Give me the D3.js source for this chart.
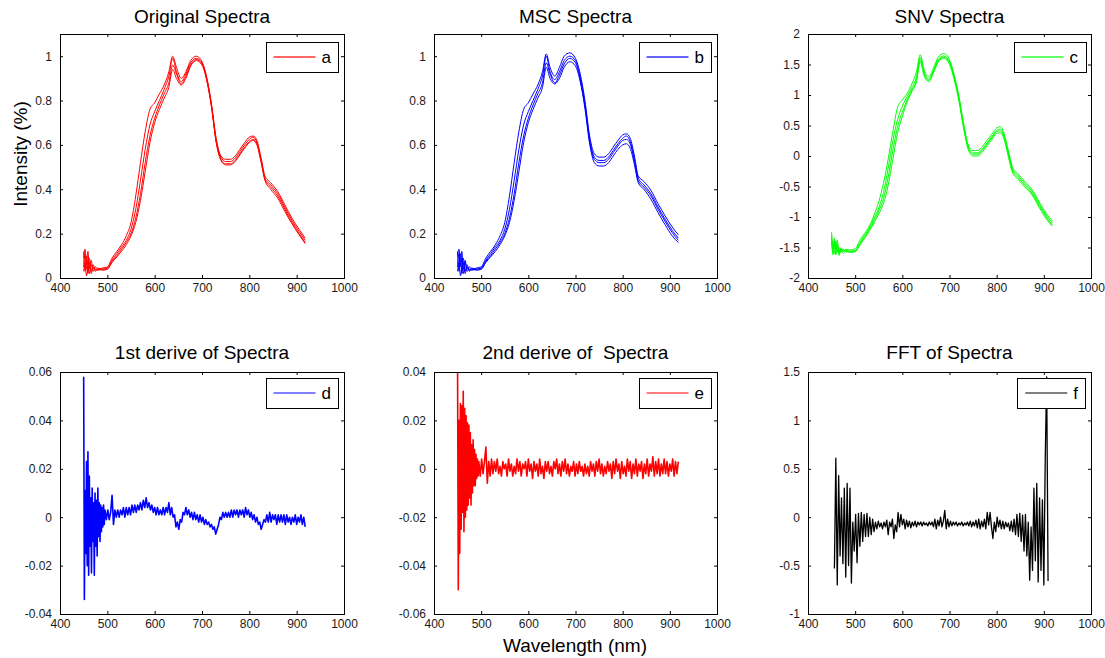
<!DOCTYPE html>
<html><head><meta charset="utf-8">
<script src="https://cdn.jsdelivr.net/npm/d3@7"></script>
<style>body{margin:0;background:#fff} text{font-family:"Liberation Sans",Arial,Helvetica,sans-serif}</style>
</head><body><svg id="c" width="1105" height="658"></svg>
<script>
// ---------- DATA ----------
const xTicks = [400,500,600,700,800,900,1000];
const specWl = [450,453,456,459,462,466,470,475,480,
 490,500,510,520,530,540,550,560,570,580,
 590,600,610,620,630,638,646,656,666,676,688,
 700,710,720,730,740,750,760,770,780,790,800,
 808,816,825,833,845,860,875,890,905,918];

const origA1 = [0.09,0.13,0.04,0.08,0.02,0.06,0.04,0.05,0.04,
 0.045,0.05,0.09,0.12,0.15,0.19,0.25,0.37,0.52,0.66,
 0.76,0.79,0.83,0.87,0.93,1.00,0.95,0.90,0.93,0.98,1.00,
 0.975,0.905,0.785,0.63,0.55,0.535,0.535,0.55,0.58,0.61,0.635,
 0.64,0.62,0.54,0.46,0.43,0.39,0.33,0.27,0.22,0.18];
const origA2 = [0.12,0.03,0.10,0.02,0.07,0.03,0.06,0.035,0.045,
 0.04,0.045,0.08,0.11,0.14,0.17,0.22,0.31,0.44,0.58,
 0.69,0.75,0.80,0.85,0.91,0.99,0.93,0.885,0.92,0.97,0.99,
 0.97,0.90,0.78,0.62,0.545,0.525,0.525,0.54,0.57,0.60,0.625,
 0.635,0.61,0.53,0.45,0.42,0.38,0.32,0.26,0.21,0.17];
const origA3 = [0.05,0.11,0.06,0.12,0.04,0.08,0.03,0.04,0.035,
 0.04,0.04,0.075,0.10,0.13,0.16,0.20,0.27,0.38,0.52,
 0.64,0.72,0.78,0.83,0.88,0.96,0.92,0.875,0.91,0.96,0.985,
 0.965,0.895,0.775,0.615,0.535,0.515,0.515,0.53,0.56,0.59,0.615,
 0.625,0.605,0.525,0.445,0.41,0.37,0.31,0.25,0.20,0.16];
const origA4 = [0.03,0.07,0.01,0.05,0.09,0.02,0.05,0.03,0.04,
 0.035,0.04,0.07,0.095,0.12,0.15,0.19,0.25,0.35,0.48,
 0.61,0.70,0.76,0.81,0.86,0.94,0.90,0.87,0.90,0.955,0.98,
 0.96,0.89,0.77,0.61,0.53,0.51,0.51,0.525,0.555,0.585,0.61,
 0.62,0.60,0.52,0.44,0.40,0.36,0.30,0.245,0.195,0.155];

const mscB1 = [0.10,0.13,0.05,0.09,0.02,0.07,0.04,0.05,0.04,
 0.045,0.05,0.09,0.12,0.15,0.19,0.25,0.37,0.52,0.66,
 0.76,0.79,0.83,0.87,0.93,1.01,0.95,0.91,0.95,1.00,1.015,
 0.99,0.92,0.80,0.64,0.56,0.545,0.545,0.56,0.59,0.62,0.645,
 0.65,0.63,0.55,0.46,0.435,0.395,0.335,0.28,0.23,0.195];
const mscB2 = [0.12,0.03,0.11,0.02,0.07,0.03,0.06,0.035,0.045,
 0.04,0.045,0.08,0.11,0.14,0.17,0.22,0.31,0.44,0.58,
 0.69,0.75,0.80,0.85,0.91,1.00,0.93,0.895,0.93,0.98,1.00,
 0.98,0.905,0.785,0.625,0.545,0.53,0.53,0.545,0.575,0.605,0.63,
 0.64,0.615,0.535,0.45,0.42,0.38,0.32,0.265,0.215,0.18];
const mscB3 = [0.05,0.11,0.06,0.12,0.04,0.08,0.03,0.04,0.035,
 0.04,0.04,0.075,0.10,0.13,0.16,0.20,0.27,0.38,0.52,
 0.64,0.72,0.78,0.83,0.88,0.97,0.92,0.88,0.915,0.965,0.99,
 0.97,0.895,0.775,0.615,0.535,0.52,0.52,0.535,0.565,0.595,0.62,
 0.625,0.605,0.525,0.44,0.41,0.37,0.31,0.255,0.205,0.17];
const mscB4 = [0.03,0.07,0.01,0.05,0.09,0.02,0.05,0.03,0.04,
 0.035,0.04,0.07,0.095,0.12,0.15,0.19,0.25,0.35,0.48,
 0.61,0.70,0.76,0.81,0.86,0.95,0.90,0.875,0.90,0.95,0.975,
 0.955,0.885,0.765,0.605,0.52,0.505,0.505,0.52,0.55,0.58,0.60,
 0.605,0.585,0.51,0.43,0.40,0.355,0.295,0.24,0.19,0.16];

const snvC1 = [-1.25,-1.55,-1.40,-1.60,-1.48,-1.63,-1.52,-1.55,-1.53,
 -1.54,-1.52,-1.38,-1.27,-1.15,-0.97,-0.75,-0.45,-0.05,0.40,
 0.80,0.92,1.02,1.18,1.38,1.66,1.42,1.30,1.44,1.62,1.68,
 1.58,1.33,0.98,0.53,0.18,0.09,0.09,0.16,0.26,0.36,0.46,
 0.48,0.36,0.08,-0.17,-0.29,-0.42,-0.55,-0.75,-0.94,-1.06];
const snvC2 = [-1.30,-1.58,-1.35,-1.62,-1.45,-1.60,-1.50,-1.56,-1.55,
 -1.56,-1.55,-1.42,-1.30,-1.18,-1.02,-0.85,-0.60,-0.20,0.25,
 0.60,0.82,0.97,1.12,1.30,1.62,1.38,1.26,1.40,1.58,1.64,
 1.55,1.30,0.95,0.50,0.15,0.05,0.05,0.12,0.22,0.32,0.42,
 0.44,0.32,0.05,-0.20,-0.32,-0.45,-0.58,-0.78,-0.97,-1.10];
const snvC3 = [-1.35,-1.50,-1.60,-1.40,-1.57,-1.50,-1.58,-1.53,-1.57,
 -1.57,-1.56,-1.44,-1.33,-1.21,-1.06,-0.90,-0.70,-0.35,0.10,
 0.48,0.72,0.92,1.08,1.25,1.58,1.35,1.24,1.38,1.56,1.62,
 1.53,1.28,0.93,0.48,0.13,0.03,0.03,0.10,0.20,0.30,0.40,
 0.41,0.30,0.02,-0.23,-0.35,-0.48,-0.61,-0.81,-1.00,-1.13];
const snvC4 = [-1.40,-1.62,-1.45,-1.55,-1.38,-1.58,-1.52,-1.60,-1.56,
 -1.58,-1.57,-1.46,-1.35,-1.23,-1.10,-0.95,-0.78,-0.48,-0.05,
 0.38,0.65,0.88,1.05,1.22,1.55,1.32,1.22,1.36,1.54,1.60,
 1.50,1.25,0.90,0.45,0.10,0.00,0.00,0.07,0.17,0.27,0.37,
 0.38,0.27,-0.02,-0.26,-0.38,-0.51,-0.64,-0.84,-1.03,-1.15];

const derivWl = [450,451.5,453,454.5,456,457.5,459,460.5,462,463.5,
 465,466.5,468,469.5,471,472.5,474,475.5,477,478.5,
 480,481.5,483,484.5,486,487.5,489,490.5,492,493.5,
 495,
 498,501,504,507,510,513,516,519,522,525,
 528,531,534,537,540,543,546,549,552,555,
 558,561,564,567,570,573,576,579,582,585,
 588,591,594,597,600,603,606,609,612,615,
 618,621,624,627,630,633,636,639,642,645,
 648,651,654,657,660,663,666,669,672,675,
 678,681,684,687,690,693,696,699,702,705,
 708,711,714,717,720,723,726,729,732,735,
 738,741,744,747,750,753,756,759,762,765,
 768,771,774,777,780,783,786,789,792,795,
 798,801,804,807,810,813,816,819,822,825,
 828,831,834,837,840,843,846,849,852,855,
 858,861,864,867,870,873,876,879,882,885,
 888,891,894,897,900,903,906,909,912,915,
 918];

const firstDeriv = [0.058,-0.034,0.011,-0.015,0.023,-0.020,0.027,-0.024,0.017,-0.012,
 0.008,-0.023,0.012,-0.010,0.006,-0.024,0.010,-0.012,0.007,-0.016,
 0.012,-0.008,0.006,-0.010,0.005,-0.006,0.004,-0.004,0.005,-0.003,
 0.003,
 -0.001,0.003,-0.001,0.002,0.009,-0.003,0.003,0.000,0.003,0.000,
 0.003,0.001,0.004,0.000,0.004,0.001,0.004,0.001,0.005,0.002,
 0.005,0.002,0.005,0.003,0.006,0.003,0.007,0.004,0.008,0.004,
 0.006,0.003,0.005,0.002,0.004,0.001,0.004,0.001,0.003,0.001,
 0.004,0.001,0.004,0.002,0.006,0.001,0.004,0.000,0.001,-0.004,
 -0.002,-0.005,-0.001,-0.002,0.002,0.001,0.004,0.001,0.003,0.000,
 0.002,-0.001,0.002,-0.001,0.001,-0.002,0.001,-0.002,0.000,-0.003,
 -0.001,-0.003,-0.002,-0.004,-0.003,-0.005,-0.004,-0.007,-0.005,-0.003,
 0.000,-0.001,0.002,0.000,0.002,0.000,0.002,0.000,0.003,0.000,
 0.003,0.001,0.003,0.000,0.003,0.001,0.003,0.000,0.004,0.001,
 0.003,0.000,0.002,-0.001,0.001,-0.002,0.000,-0.003,-0.002,-0.005,
 -0.003,-0.001,-0.002,0.001,-0.002,0.002,-0.002,0.001,-0.001,0.001,
 -0.003,0.001,-0.002,0.001,-0.002,0.001,-0.003,0.001,-0.002,0.000,
 -0.003,0.000,-0.002,0.001,-0.003,0.000,-0.002,0.001,-0.003,0.000,
 -0.004];

const secondDeriv = [0.040,-0.050,0.020,-0.035,0.027,-0.025,0.026,-0.018,0.032,-0.026,
 0.025,-0.020,0.022,-0.017,0.019,-0.015,0.018,-0.012,0.015,-0.015,
 0.010,-0.010,0.012,-0.007,0.008,-0.007,0.006,-0.004,0.004,-0.003,
 0.003,
 -0.003,0.004,-0.002,0.003,0.009,-0.006,0.003,-0.003,0.004,-0.002,
 0.003,-0.001,0.004,-0.002,0.001,-0.003,0.003,0.000,0.002,-0.003,
 0.004,-0.001,0.002,-0.003,0.001,-0.002,0.004,-0.001,0.003,-0.003,
 0.002,0.000,0.003,-0.003,0.004,-0.001,0.002,-0.004,0.003,-0.001,
 0.002,-0.003,0.004,-0.002,0.001,-0.004,0.003,-0.001,0.003,-0.002,
 0.001,-0.003,0.003,0.000,0.004,-0.002,0.002,-0.003,0.003,-0.001,
 0.004,-0.002,0.002,-0.003,0.001,-0.001,0.003,-0.003,0.002,-0.002,
 0.003,-0.001,0.001,-0.003,0.002,-0.002,0.001,-0.003,0.003,-0.001,
 0.002,-0.003,0.003,-0.001,0.004,-0.002,0.002,-0.003,0.001,-0.002,
 0.003,-0.001,0.002,-0.004,0.003,-0.002,0.004,-0.001,0.002,-0.004,
 0.003,-0.002,0.001,-0.003,0.004,-0.001,0.003,-0.004,0.002,-0.002,
 0.004,-0.003,0.002,-0.001,0.003,-0.004,0.002,-0.002,0.004,-0.003,
 0.002,-0.001,0.005,-0.003,0.003,-0.002,0.004,-0.003,0.002,-0.002,
 0.004,-0.002,0.003,-0.003,0.002,-0.001,0.004,-0.003,0.003,-0.002,
 0.003];

const fftWl = [456,459,462,465,468,471,474,477,480,483,
 486,489,492,495,498,501,504,507,510,513,
 516,519,522,525,528,531,534,537,540,543,
 546,549,552,555,558,561,564,567,570,573,
 576,579,582,585,588,591,594,597,600,603,
 606,609,612,615,618,621,624,627,630,633,
 636,639,642,645,648,651,654,657,660,663,
 666,669,672,675,678,681,684,687,690,693,
 696,699,702,705,708,711,714,717,720,723,
 726,729,732,735,738,741,744,747,750,753,
 756,759,762,765,768,771,774,777,780,783,
 786,789,792,795,798,801,804,807,810,813,
 816,819,822,825,828,831,834,837,840,843,
 846,849,852,855,858,861,864,867,870,873,
 876,879,882,885,888,891,894,897,900,903,
 906,909];
const fftVals = [-0.53,0.61,-0.70,0.43,-0.40,0.20,-0.48,0.30,-0.62,0.35,
 -0.50,0.30,-0.68,-0.05,-0.35,0.03,-0.47,0.04,-0.30,0.05,
 -0.25,0.03,-0.20,0.04,-0.20,0.00,-0.18,-0.02,-0.15,-0.05,
 -0.12,-0.04,-0.10,-0.06,-0.12,-0.05,-0.10,-0.03,-0.18,-0.05,
 -0.10,-0.02,-0.22,-0.08,-0.15,0.05,-0.10,0.03,-0.08,-0.02,
 -0.12,-0.03,-0.10,-0.04,-0.11,-0.05,-0.09,-0.04,-0.10,-0.05,
 -0.08,-0.05,-0.09,-0.05,-0.08,-0.06,-0.09,-0.05,-0.08,-0.05,
 -0.10,-0.02,-0.12,-0.03,-0.09,0.00,-0.10,-0.04,0.07,-0.12,
 -0.02,-0.10,-0.04,-0.09,-0.05,-0.08,-0.05,-0.09,-0.06,-0.08,
 -0.05,-0.09,-0.06,-0.08,-0.05,-0.09,-0.04,-0.10,-0.05,-0.09,
 -0.03,-0.11,-0.02,-0.12,-0.04,-0.10,-0.02,-0.12,0.05,-0.08,
 0.05,-0.10,-0.22,-0.05,-0.15,0.00,-0.10,-0.03,-0.12,-0.04,
 -0.12,-0.05,-0.10,-0.06,-0.14,-0.04,-0.15,-0.02,-0.18,0.03,
 -0.20,0.04,-0.25,0.02,-0.35,0.03,-0.40,-0.05,-0.65,-0.10,
 -0.55,0.30,-0.45,0.35,-0.67,0.20,-0.55,0.18,-0.70,0.61,
 1.45,-0.66];

const titles = ["Original Spectra","MSC Spectra","SNV Spectra","1st derive of Spectra","2nd derive of  Spectra","FFT of Spectra"];
const legendLabels = ["a","b","c","d","e","f"];
const yTicksA = [0,0.2,0.4,0.6,0.8,1];
const yTicksC = [-2,-1.5,-1,-0.5,0,0.5,1,1.5,2];
const yTicksD = [-0.04,-0.02,0,0.02,0.04,0.06];
const yTicksE = [-0.06,-0.04,-0.02,0,0.02,0.04];
const yTicksF = [-1,-0.5,0,0.5,1,1.5];

// ---------- LAYOUT ----------
const cols = [[60,344],[434,717],[808,1091]];
const rows = [[34,278],[372,614]];
const panels = [
 {c:0,r:0,yd:[0,1.1],yt:yTicksA,xs:specWl,series:[origA1,origA2,origA3,origA4],color:"#ff0000",sw:1,smooth:true},
 {c:1,r:0,yd:[0,1.1],yt:yTicksA,xs:specWl,series:[mscB1,mscB2,mscB3,mscB4],color:"#0000ff",sw:1,smooth:true},
 {c:2,r:0,yd:[-2,2],yt:yTicksC,xs:specWl,series:[snvC1,snvC2,snvC3,snvC4],color:"#00ff00",sw:1,smooth:true},
 {c:0,r:1,yd:[-0.04,0.06],yt:yTicksD,xs:derivWl,series:[firstDeriv],color:"#0000ff",sw:1.6,smooth:false},
 {c:1,r:1,yd:[-0.06,0.04],yt:yTicksE,xs:derivWl,series:[secondDeriv],color:"#ff0000",sw:1.6,smooth:false},
 {c:2,r:1,yd:[-1,1.5],yt:yTicksF,xs:fftWl,series:[fftVals],color:"#000000",sw:1.3,smooth:false}
];

const svg = d3.select("#c");
svg.append("rect").attr("width",1105).attr("height",658).attr("fill","#fff");

panels.forEach((p,i)=>{
  const [L,R] = cols[p.c], [T,B] = rows[p.r];
  const x = d3.scaleLinear().domain([400,1000]).range([L,R]);
  const y = d3.scaleLinear().domain(p.yd).range([B,T]);
  const g = svg.append("g");
  const line = d3.line().x(d=>x(d[0])).y(d=>y(d[1])).curve(p.smooth?d3.curveMonotoneX:d3.curveLinear);
  p.series.forEach(s=>{
    if (s.length!==p.xs.length) console.error("length mismatch panel",i,s.length,p.xs.length);
    g.append("path").attr("d",line(d3.zip(p.xs,s))).attr("fill","none")
     .attr("stroke",p.color).attr("stroke-width",p.sw).attr("stroke-linejoin","round");
  });
  const fmt = d=>String(d);
  const ax = (gen, tr, labels)=>{
    const a = g.append("g").attr("transform",tr).call(gen);
    a.select(".domain").remove();
    a.selectAll(".tick line").attr("stroke","#000");
    a.selectAll("text").attr("font-size",12).attr("fill","#1a1a1a")
      .style("font-family","'Liberation Sans',Arial,sans-serif");
    if(!labels) a.selectAll("text").remove();
  };
  ax(d3.axisBottom(x).tickValues(xTicks).tickSizeInner(-3).tickSizeOuter(0).tickPadding(5).tickFormat(fmt),`translate(0,${B})`,true);
  ax(d3.axisTop(x).tickValues(xTicks).tickSizeInner(-3).tickSizeOuter(0).tickFormat(""),`translate(0,${T})`,false);
  ax(d3.axisLeft(y).tickValues(p.yt).tickSizeInner(-3).tickSizeOuter(0).tickPadding(8).tickFormat(fmt),`translate(${L},0)`,true);
  ax(d3.axisRight(y).tickValues(p.yt).tickSizeInner(-3).tickSizeOuter(0).tickFormat(""),`translate(${R},0)`,false);
  g.append("rect").attr("x",L+0.5).attr("y",T+0.5).attr("width",R-L).attr("height",B-T)
   .attr("fill","none").attr("stroke","#000").attr("stroke-width",1);
  // title
  g.append("text").attr("x",(L+R)/2).attr("y",p.r===0?23:359).attr("text-anchor","middle")
   .attr("font-size",19).attr("fill","#000").attr("xml:space","preserve").style("white-space","pre").text(titles[i]);
  // legend
  const lg = g.append("g");
  const box = lg.append("rect");
  const lt = lg.append("text").attr("font-size",17).attr("fill","#000").text(legendLabels[i]);
  const tw = lt.node().getComputedTextLength();
  const bw = 8+42+6+tw+7, bh = 30;
  const bx = R-6-bw, by = T+(p.r===0?8:6);
  box.attr("x",Math.round(bx)+0.5).attr("y",by+0.5).attr("width",Math.round(bw)).attr("height",bh)
     .attr("fill","#fff").attr("stroke","#000").attr("stroke-width",1);
  lg.append("line").attr("x1",bx+8).attr("x2",bx+50).attr("y1",by+bh/2).attr("y2",by+bh/2)
    .attr("stroke",p.color).attr("stroke-width",p.smooth?2:1.2).attr("stroke-opacity",p.smooth?0.6:1);
  lt.attr("x",bx+56).attr("y",by+bh/2+6);
});

svg.append("text").attr("transform","translate(27,154) rotate(-90)").attr("text-anchor","middle")
  .attr("font-size",19).attr("fill","#000").text("Intensity (%)");
svg.append("text").attr("x",575).attr("y",652).attr("text-anchor","middle")
  .attr("font-size",19).attr("fill","#000").text("Wavelength (nm)");
</script></body></html>
